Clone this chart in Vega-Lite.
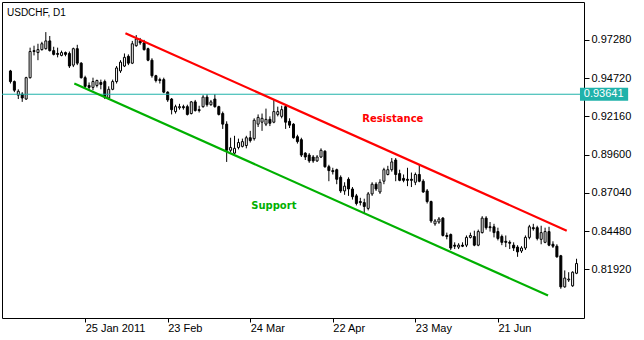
{
"$schema": "https://vega.github.io/schema/vega-lite/v6.json",
"width": 582, "height": 316,
"autosize": {"type": "none"},
"padding": {"left": 2, "top": 2, "right": 60, "bottom": 22},
"background": "white",
"config": {"view": {"stroke": "black", "strokeWidth": 1}, "font": "Liberation Sans",
  "axis": {"labelFont": "Liberation Sans", "labelFontSize": 11, "labelColor": "black", "tickColor": "black", "domain": false, "grid": false}},
"title": {"text": "USDCHF, D1", "anchor": "start", "frame": "group", "orient": "top", "offset": -16, "dx": 5, "fontSize": 10, "fontWeight": "normal", "font": "Liberation Sans", "color": "black"},
"datasets": {
"candles": [
{"k":0,"o":0.9520,"h":0.9527,"l":0.9436,"c":0.9449},
{"k":1,"o":0.9449,"h":0.9456,"l":0.9378,"c":0.9391},
{"k":2,"o":0.9358,"h":0.9397,"l":0.9332,"c":0.9384},
{"k":3,"o":0.9365,"h":0.9378,"l":0.9313,"c":0.9339},
{"k":4,"o":0.9332,"h":0.9481,"l":0.9326,"c":0.9475},
{"k":5,"o":0.9475,"h":0.9676,"l":0.9469,"c":0.9650},
{"k":6,"o":0.9656,"h":0.9689,"l":0.9624,"c":0.9650},
{"k":7,"o":0.9643,"h":0.9702,"l":0.9592,"c":0.9663},
{"k":8,"o":0.9663,"h":0.9715,"l":0.9656,"c":0.9702},
{"k":9,"o":0.9669,"h":0.9780,"l":0.9663,"c":0.9721},
{"k":10,"o":0.9721,"h":0.9754,"l":0.9650,"c":0.9656},
{"k":11,"o":0.9656,"h":0.9682,"l":0.9624,"c":0.9631},
{"k":12,"o":0.9637,"h":0.9676,"l":0.9611,"c":0.9631},
{"k":13,"o":0.9624,"h":0.9656,"l":0.9618,"c":0.9643},
{"k":14,"o":0.9643,"h":0.9650,"l":0.9618,"c":0.9631},
{"k":15,"o":0.9637,"h":0.9650,"l":0.9540,"c":0.9553},
{"k":16,"o":0.9559,"h":0.9676,"l":0.9546,"c":0.9669},
{"k":17,"o":0.9669,"h":0.9695,"l":0.9559,"c":0.9572},
{"k":18,"o":0.9572,"h":0.9579,"l":0.9469,"c":0.9475},
{"k":19,"o":0.9475,"h":0.9488,"l":0.9404,"c":0.9417},
{"k":20,"o":0.9423,"h":0.9443,"l":0.9391,"c":0.9410},
{"k":21,"o":0.9410,"h":0.9475,"l":0.9391,"c":0.9449},
{"k":22,"o":0.9423,"h":0.9462,"l":0.9410,"c":0.9456},
{"k":23,"o":0.9443,"h":0.9462,"l":0.9397,"c":0.9430},
{"k":24,"o":0.9449,"h":0.9462,"l":0.9332,"c":0.9345},
{"k":25,"o":0.9339,"h":0.9417,"l":0.9326,"c":0.9397},
{"k":26,"o":0.9397,"h":0.9462,"l":0.9391,"c":0.9449},
{"k":27,"o":0.9449,"h":0.9553,"l":0.9436,"c":0.9540},
{"k":28,"o":0.9520,"h":0.9592,"l":0.9507,"c":0.9579},
{"k":29,"o":0.9553,"h":0.9637,"l":0.9546,"c":0.9611},
{"k":30,"o":0.9618,"h":0.9631,"l":0.9559,"c":0.9572},
{"k":31,"o":0.9572,"h":0.9721,"l":0.9566,"c":0.9702},
{"k":32,"o":0.9689,"h":0.9760,"l":0.9682,"c":0.9734},
{"k":33,"o":0.9721,"h":0.9741,"l":0.9695,"c":0.9708},
{"k":34,"o":0.9708,"h":0.9728,"l":0.9656,"c":0.9663},
{"k":35,"o":0.9669,"h":0.9676,"l":0.9585,"c":0.9592},
{"k":36,"o":0.9592,"h":0.9605,"l":0.9475,"c":0.9488},
{"k":37,"o":0.9488,"h":0.9494,"l":0.9443,"c":0.9456},
{"k":38,"o":0.9462,"h":0.9475,"l":0.9436,"c":0.9456},
{"k":39,"o":0.9462,"h":0.9475,"l":0.9371,"c":0.9378},
{"k":40,"o":0.9378,"h":0.9384,"l":0.9313,"c":0.9326},
{"k":41,"o":0.9332,"h":0.9339,"l":0.9229,"c":0.9261},
{"k":42,"o":0.9248,"h":0.9294,"l":0.9235,"c":0.9281},
{"k":43,"o":0.9274,"h":0.9300,"l":0.9261,"c":0.9281},
{"k":44,"o":0.9281,"h":0.9294,"l":0.9261,"c":0.9274},
{"k":45,"o":0.9281,"h":0.9294,"l":0.9222,"c":0.9229},
{"k":46,"o":0.9235,"h":0.9319,"l":0.9229,"c":0.9313},
{"k":47,"o":0.9313,"h":0.9326,"l":0.9248,"c":0.9255},
{"k":48,"o":0.9261,"h":0.9287,"l":0.9242,"c":0.9255},
{"k":49,"o":0.9281,"h":0.9358,"l":0.9274,"c":0.9345},
{"k":50,"o":0.9345,"h":0.9365,"l":0.9281,"c":0.9294},
{"k":51,"o":0.9294,"h":0.9326,"l":0.9287,"c":0.9313},
{"k":52,"o":0.9332,"h":0.9365,"l":0.9274,"c":0.9281},
{"k":53,"o":0.9281,"h":0.9287,"l":0.9222,"c":0.9229},
{"k":54,"o":0.9235,"h":0.9248,"l":0.9132,"c":0.9164},
{"k":55,"o":0.9164,"h":0.9183,"l":0.8911,"c":0.8989},
{"k":56,"o":0.8989,"h":0.9073,"l":0.8976,"c":0.9008},
{"k":57,"o":0.8970,"h":0.9086,"l":0.8963,"c":0.9002},
{"k":58,"o":0.9008,"h":0.9067,"l":0.8995,"c":0.9041},
{"k":59,"o":0.9015,"h":0.9067,"l":0.9008,"c":0.9047},
{"k":60,"o":0.9021,"h":0.9086,"l":0.9002,"c":0.9073},
{"k":61,"o":0.9073,"h":0.9119,"l":0.9041,"c":0.9054},
{"k":62,"o":0.9067,"h":0.9203,"l":0.9054,"c":0.9190},
{"k":63,"o":0.9164,"h":0.9229,"l":0.9145,"c":0.9209},
{"k":64,"o":0.9177,"h":0.9235,"l":0.9119,"c":0.9203},
{"k":65,"o":0.9164,"h":0.9268,"l":0.9151,"c":0.9196},
{"k":66,"o":0.9196,"h":0.9216,"l":0.9151,"c":0.9170},
{"k":67,"o":0.9177,"h":0.9326,"l":0.9170,"c":0.9248},
{"k":68,"o":0.9229,"h":0.9281,"l":0.9216,"c":0.9248},
{"k":69,"o":0.9216,"h":0.9287,"l":0.9203,"c":0.9261},
{"k":70,"o":0.9281,"h":0.9294,"l":0.9132,"c":0.9177},
{"k":71,"o":0.9183,"h":0.9203,"l":0.9138,"c":0.9157},
{"k":72,"o":0.9164,"h":0.9170,"l":0.9067,"c":0.9073},
{"k":73,"o":0.9080,"h":0.9093,"l":0.9034,"c":0.9047},
{"k":74,"o":0.9060,"h":0.9073,"l":0.8944,"c":0.8957},
{"k":75,"o":0.8970,"h":0.8976,"l":0.8924,"c":0.8944},
{"k":76,"o":0.8957,"h":0.8970,"l":0.8905,"c":0.8918},
{"k":77,"o":0.8944,"h":0.8957,"l":0.8905,"c":0.8918},
{"k":78,"o":0.8918,"h":0.8957,"l":0.8911,"c":0.8944},
{"k":79,"o":0.8944,"h":0.9002,"l":0.8937,"c":0.8989},
{"k":80,"o":0.8983,"h":0.8989,"l":0.8872,"c":0.8879},
{"k":81,"o":0.8879,"h":0.8892,"l":0.8782,"c":0.8853},
{"k":82,"o":0.8853,"h":0.8872,"l":0.8827,"c":0.8846},
{"k":83,"o":0.8859,"h":0.8866,"l":0.8762,"c":0.8795},
{"k":84,"o":0.8808,"h":0.8821,"l":0.8704,"c":0.8717},
{"k":85,"o":0.8717,"h":0.8775,"l":0.8691,"c":0.8749},
{"k":86,"o":0.8795,"h":0.8808,"l":0.8684,"c":0.8730},
{"k":87,"o":0.8730,"h":0.8743,"l":0.8659,"c":0.8678},
{"k":88,"o":0.8684,"h":0.8697,"l":0.8620,"c":0.8633},
{"k":89,"o":0.8646,"h":0.8671,"l":0.8620,"c":0.8639},
{"k":90,"o":0.8639,"h":0.8665,"l":0.8568,"c":0.8613},
{"k":91,"o":0.8600,"h":0.8710,"l":0.8587,"c":0.8697},
{"k":92,"o":0.8697,"h":0.8775,"l":0.8684,"c":0.8762},
{"k":93,"o":0.8762,"h":0.8775,"l":0.8717,"c":0.8730},
{"k":94,"o":0.8710,"h":0.8795,"l":0.8697,"c":0.8775},
{"k":95,"o":0.8782,"h":0.8872,"l":0.8762,"c":0.8859},
{"k":96,"o":0.8827,"h":0.8885,"l":0.8821,"c":0.8859},
{"k":97,"o":0.8859,"h":0.8937,"l":0.8846,"c":0.8911},
{"k":98,"o":0.8924,"h":0.8937,"l":0.8782,"c":0.8827},
{"k":99,"o":0.8833,"h":0.8859,"l":0.8782,"c":0.8788},
{"k":100,"o":0.8801,"h":0.8827,"l":0.8775,"c":0.8788},
{"k":101,"o":0.8795,"h":0.8872,"l":0.8749,"c":0.8788},
{"k":102,"o":0.8795,"h":0.8840,"l":0.8743,"c":0.8788},
{"k":103,"o":0.8775,"h":0.8840,"l":0.8756,"c":0.8827},
{"k":104,"o":0.8827,"h":0.8892,"l":0.8775,"c":0.8782},
{"k":105,"o":0.8782,"h":0.8795,"l":0.8704,"c":0.8710},
{"k":106,"o":0.8717,"h":0.8730,"l":0.8633,"c":0.8646},
{"k":107,"o":0.8646,"h":0.8652,"l":0.8503,"c":0.8516},
{"k":108,"o":0.8497,"h":0.8529,"l":0.8484,"c":0.8516},
{"k":109,"o":0.8509,"h":0.8542,"l":0.8497,"c":0.8529},
{"k":110,"o":0.8535,"h":0.8542,"l":0.8412,"c":0.8419},
{"k":111,"o":0.8419,"h":0.8438,"l":0.8393,"c":0.8412},
{"k":112,"o":0.8425,"h":0.8432,"l":0.8322,"c":0.8335},
{"k":113,"o":0.8354,"h":0.8373,"l":0.8328,"c":0.8347},
{"k":114,"o":0.8341,"h":0.8367,"l":0.8328,"c":0.8354},
{"k":115,"o":0.8354,"h":0.8373,"l":0.8341,"c":0.8347},
{"k":116,"o":0.8354,"h":0.8419,"l":0.8341,"c":0.8406},
{"k":117,"o":0.8406,"h":0.8438,"l":0.8399,"c":0.8419},
{"k":118,"o":0.8412,"h":0.8451,"l":0.8347,"c":0.8354},
{"k":119,"o":0.8354,"h":0.8458,"l":0.8347,"c":0.8445},
{"k":120,"o":0.8438,"h":0.8548,"l":0.8432,"c":0.8535},
{"k":121,"o":0.8535,"h":0.8548,"l":0.8458,"c":0.8471},
{"k":122,"o":0.8477,"h":0.8509,"l":0.8445,"c":0.8471},
{"k":123,"o":0.8477,"h":0.8497,"l":0.8406,"c":0.8438},
{"k":124,"o":0.8445,"h":0.8471,"l":0.8386,"c":0.8399},
{"k":125,"o":0.8412,"h":0.8425,"l":0.8354,"c":0.8373},
{"k":126,"o":0.8380,"h":0.8419,"l":0.8341,"c":0.8373},
{"k":127,"o":0.8373,"h":0.8386,"l":0.8328,"c":0.8367},
{"k":128,"o":0.8354,"h":0.8373,"l":0.8315,"c":0.8335},
{"k":129,"o":0.8341,"h":0.8354,"l":0.8276,"c":0.8309},
{"k":130,"o":0.8315,"h":0.8347,"l":0.8302,"c":0.8335},
{"k":131,"o":0.8335,"h":0.8419,"l":0.8322,"c":0.8406},
{"k":132,"o":0.8406,"h":0.8490,"l":0.8393,"c":0.8477},
{"k":133,"o":0.8471,"h":0.8497,"l":0.8451,"c":0.8464},
{"k":134,"o":0.8471,"h":0.8484,"l":0.8386,"c":0.8399},
{"k":135,"o":0.8393,"h":0.8484,"l":0.8360,"c":0.8438},
{"k":136,"o":0.8373,"h":0.8471,"l":0.8367,"c":0.8445},
{"k":137,"o":0.8445,"h":0.8477,"l":0.8347,"c":0.8354},
{"k":138,"o":0.8360,"h":0.8380,"l":0.8335,"c":0.8347},
{"k":139,"o":0.8347,"h":0.8360,"l":0.8270,"c":0.8276},
{"k":140,"o":0.8283,"h":0.8289,"l":0.8062,"c":0.8075},
{"k":141,"o":0.8075,"h":0.8185,"l":0.8069,"c":0.8134},
{"k":142,"o":0.8121,"h":0.8173,"l":0.8108,"c":0.8127},
{"k":143,"o":0.8082,"h":0.8179,"l":0.8075,"c":0.8173},
{"k":144,"o":0.8166,"h":0.8263,"l":0.8160,"c":0.8231}
],
"trend": [
{"line":"Resistance","k":29.25,"price":0.9773},
{"line":"Resistance","k":141.5,"price":0.8451},
{"line":"Support","k":16.25,"price":0.9436},
{"line":"Support","k":136.75,"price":0.8017}
],
"labels": [
{"label":"Resistance","k":97.25,"price":0.9196},
{"label":"Support","k":67,"price":0.8613}
],
"current": [{"price":0.93641}]
},
"layer": [
{"data":{"name":"candles"},"mark":{"type":"rule","color":"black","strokeWidth":1},
 "encoding":{
  "x":{"field":"k","type":"quantitative","title":null,"scale":{"domain":[-0.875,144.625],"nice":false,"zero":false},
   "axis":{"title":null,"orient":"bottom","values":[19,40,61,82,103,124],"labelExpr":"datum.value==19?'25 Jan 2011':datum.value==40?'23 Feb':datum.value==61?'24 Mar':datum.value==82?'22 Apr':datum.value==103?'23 May':'21 Jun'","labelAlign":"left","tickSize":4,"labelPadding":0}},
  "y":{"field":"l","type":"quantitative","title":null,"scale":{"domain":[0.7900,0.9948],"nice":false,"zero":false},
   "axis":{"title":null,"orient":"right","values":[0.8192,0.8448,0.8704,0.896,0.9216,0.9472,0.9728],"format":".5f","tickSize":5,"labelPadding":2}},
  "y2":{"field":"h"}}},
{"data":{"name":"candles"},"mark":{"type":"bar","stroke":"black","strokeWidth":1,"size":2},
 "encoding":{
  "x":{"field":"k","type":"quantitative","title":null},
  "y":{"field":"o","type":"quantitative","title":null},
  "y2":{"field":"c"},
  "fill":{"condition":{"test":"datum.c > datum.o","value":"white"},"value":"black"}}},
{"data":{"name":"current"},"mark":{"type":"rule","color":"#20B2AA","strokeWidth":1},
 "encoding":{"y":{"field":"price","type":"quantitative","title":null}}},
{"data":{"name":"trend"},"mark":{"type":"line","strokeWidth":2.2},
 "encoding":{
  "x":{"field":"k","type":"quantitative","title":null},
  "y":{"field":"price","type":"quantitative","title":null},
  "color":{"field":"line","type":"nominal","scale":{"domain":["Resistance","Support"],"range":["#FF0000","#00B000"]},"legend":null}}},
{"data":{"name":"labels"},"mark":{"type":"text","font":"DejaVu Sans","fontWeight":"bold","fontSize":10,"align":"center","baseline":"middle"},
 "encoding":{
  "x":{"field":"k","type":"quantitative","title":null},
  "y":{"field":"price","type":"quantitative","title":null},
  "text":{"field":"label"},
  "color":{"field":"label","type":"nominal","scale":{"domain":["Resistance","Support"],"range":["#FF0000","#00A000"]},"legend":null}}},
{"data":{"name":"current"},"mark":{"type":"bar","orient":"horizontal","color":"#20B2AA","size":13},
 "encoding":{
  "x":{"datum":144.875,"type":"quantitative"},
  "x2":{"datum":157.125},
  "y":{"field":"price","type":"quantitative","title":null}}},
{"data":{"name":"current"},"mark":{"type":"text","color":"white","font":"Liberation Sans","fontSize":11,"align":"center","baseline":"middle"},
 "encoding":{
  "x":{"datum":150.9,"type":"quantitative"},
  "y":{"field":"price","type":"quantitative","title":null},
  "text":{"field":"price","type":"quantitative","format":".5f"}}}
]
}
